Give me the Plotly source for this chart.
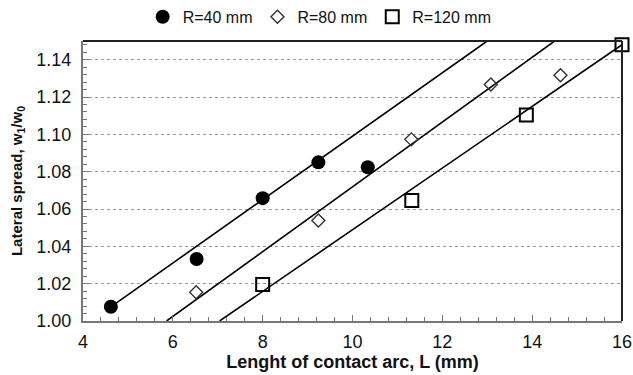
import plotly.graph_objects as go

# Measured lateral spread vs. contact arc length for three roll radii
L_r40 = [4.62, 6.53, 8.0, 9.24, 10.34]
w_r40 = [1.0076, 1.0332, 1.0658, 1.085, 1.0824]
L_r80 = [6.52, 9.24, 11.31, 13.08, 14.63]
w_r80 = [1.0154, 1.0538, 1.0973, 1.1267, 1.1317]
L_r120 = [8.0, 11.32, 13.87, 16.0]
w_r120 = [1.0195, 1.0645, 1.1103, 1.148]

# Linear trend lines (end points)
fit_L_r40 = [4.62, 13.0]
fit_w_r40 = [1.0076, 1.15]
fit_L_r80 = [5.86, 14.5]
fit_w_r80 = [1.0, 1.15]
fit_L_r120 = [7.04, 16.0]
fit_w_r120 = [1.0, 1.148]

x_ticks = [4, 6, 8, 10, 12, 14, 16]
y_ticks = [1.00, 1.02, 1.04, 1.06, 1.08, 1.10, 1.12, 1.14]

FONT = "Liberation Sans, Arial, sans-serif"

fig = go.Figure()

for fx, fy in [(fit_L_r40, fit_w_r40), (fit_L_r80, fit_w_r80), (fit_L_r120, fit_w_r120)]:
    fig.add_trace(go.Scatter(x=fx, y=fy, mode="lines",
                             line=dict(color="black", width=1.6),
                             showlegend=False, hoverinfo="skip"))

fig.add_trace(go.Scatter(x=L_r40, y=w_r40, mode="markers", name="R=40 mm",
                         marker=dict(symbol="circle", size=14, color="black",
                                     line=dict(width=0)),
                         cliponaxis=False))
fig.add_trace(go.Scatter(x=L_r80, y=w_r80, mode="markers", name="R=80 mm",
                         marker=dict(symbol="diamond-open", size=10, color="#333",
                                     line=dict(width=1.4)),
                         cliponaxis=False))
fig.add_trace(go.Scatter(x=L_r120, y=w_r120, mode="markers", name="R=120 mm",
                         marker=dict(symbol="square-open", size=13, color="black",
                                     line=dict(width=2)),
                         cliponaxis=False))

# top and right frame
fig.add_shape(type="line", xref="paper", yref="paper", x0=0, x1=1, y0=1, y1=1,
              line=dict(color="#222", width=2))
fig.add_shape(type="line", xref="paper", yref="paper", x0=1, x1=1, y0=0, y1=1,
              line=dict(color="#222", width=2))

fig.update_layout(
    width=633, height=375,
    margin=dict(l=83, r=11, t=41, b=54, autoexpand=False),
    paper_bgcolor="white", plot_bgcolor="white",
    font=dict(family=FONT, size=16, color="#111"),
    legend=dict(orientation="h", xref="container", yref="container",
                x=0.505, xanchor="center", y=0.955, yanchor="middle",
                font=dict(size=16), itemwidth=30, tracegroupgap=0,
                bgcolor="rgba(0,0,0,0)"),
    xaxis=dict(range=[4, 16], tickvals=x_ticks, ticktext=[str(v) for v in x_ticks],
               showgrid=False, zeroline=False, automargin=False,
               showline=True, linecolor="#777", linewidth=2,
               ticks="inside", ticklen=6, tickcolor="#777", tickwidth=1,
               minor=dict(dtick=0.4, tick0=4, ticks="inside", ticklen=4,
                          tickcolor="#777", showgrid=False),
               tickfont=dict(size=18), ticklabelstandoff=3,
               ticklabeloverflow="allow",
               title=dict(text="<b>Lenght of contact arc, L (mm)</b>",
                          font=dict(size=18), standoff=2)),
    yaxis=dict(range=[1.0, 1.15], tickvals=y_ticks,
               ticktext=["%.2f" % v for v in y_ticks],
               showgrid=True, gridcolor="#999", griddash="dot", gridwidth=1,
               zeroline=False, automargin=False,
               showline=True, linecolor="#777", linewidth=2,
               ticks="inside", ticklen=6, tickcolor="#777", tickwidth=1,
               minor=dict(dtick=0.004, tick0=1.0, ticks="inside", ticklen=4,
                          tickcolor="#777", showgrid=False),
               tickfont=dict(size=18), ticklabelstandoff=6,
               title=dict(text="<b>Lateral spread, w<sub>1</sub>/w<sub>0</sub></b>",
                          font=dict(size=15), standoff=10)),
)

fig.write_html("out.html")
